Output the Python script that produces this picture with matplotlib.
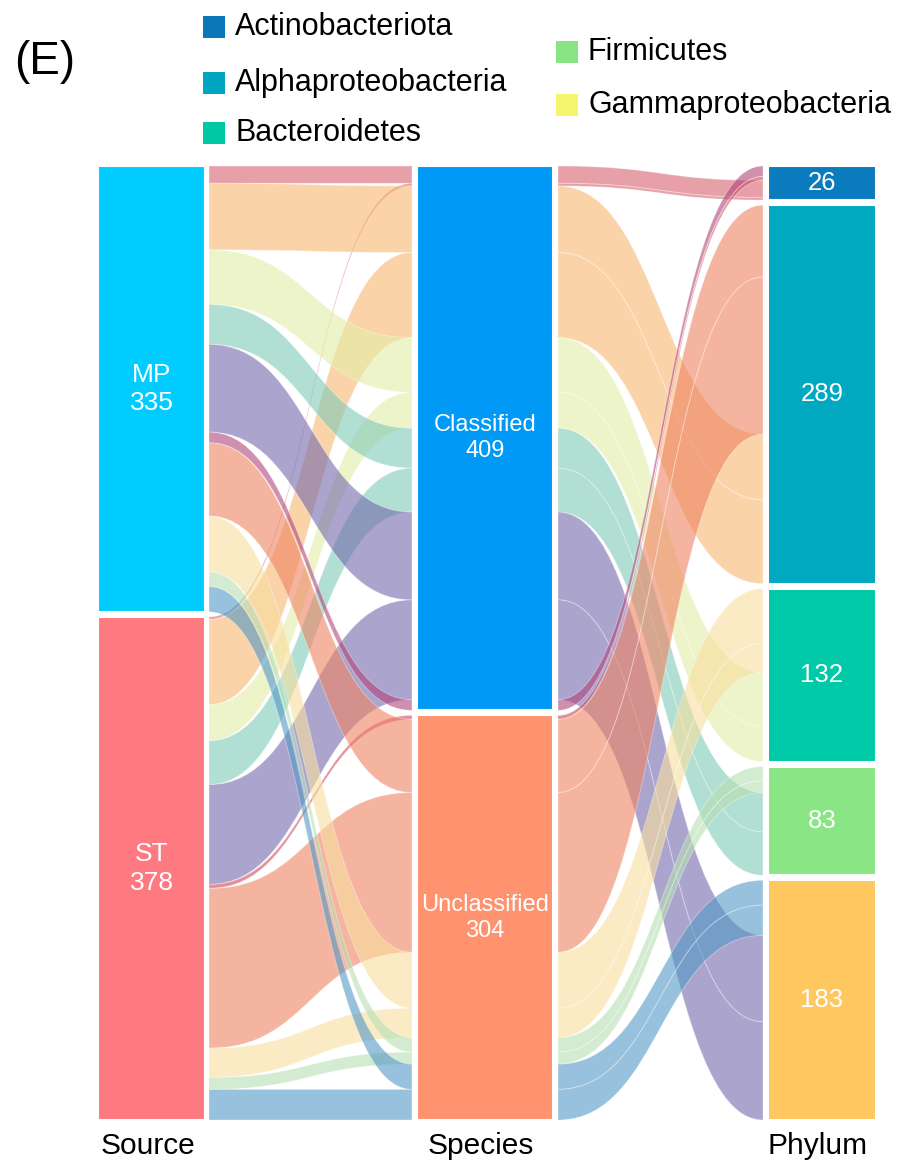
import matplotlib.pyplot as plt
from matplotlib.colors import to_rgba
from matplotlib.patches import Rectangle, PathPatch
from matplotlib.path import Path

plt.rcParams['font.family'] = ['Liberation Sans', 'DejaVu Sans']

# strata
sources = ['MP', 'ST']
source_values = [335, 378]
species = ['Classified', 'Unclassified']
species_values = [409, 304]
phyla = ['Actinobacteriota', 'Alphaproteobacteria', 'Bacteroidetes',
         'Firmicutes', 'Gammaproteobacteria']
phylum_values = [26, 289, 132, 83, 183]

# alluvia (one entry per source -> species -> phylum path)
flow_source = ['MP', 'ST', 'MP', 'ST', 'MP', 'ST', 'MP', 'ST', 'MP', 'ST',
               'MP', 'ST', 'MP', 'ST', 'MP', 'ST', 'MP', 'ST', 'MP', 'ST']
flow_species = ['Classified'] * 11 + ['Unclassified'] * 9
flow_phylum = ['Actinobacteriota', 'Actinobacteriota',
               'Alphaproteobacteria', 'Alphaproteobacteria',
               'Bacteroidetes', 'Bacteroidetes',
               'Firmicutes', 'Firmicutes',
               'Gammaproteobacteria', 'Gammaproteobacteria',
               'Actinobacteriota', 'Actinobacteriota',
               'Alphaproteobacteria', 'Alphaproteobacteria',
               'Bacteroidetes', 'Bacteroidetes',
               'Firmicutes', 'Firmicutes',
               'Gammaproteobacteria', 'Gammaproteobacteria']
flow_count = [13, 2, 50, 64, 41, 27, 30, 33, 66, 75,
              8, 3, 55, 120, 42, 22, 11, 9, 19, 23]
flow_group = ['pink', 'pink', 'peach', 'peach', 'lime', 'lime', 'teal', 'teal',
              'purple', 'purple', 'magenta', 'red', 'salmon', 'salmon',
              'cream', 'cream', 'mint', 'mint', 'blue', 'blue']
# stacking order of the alluvia inside the phylum column
phylum_stack = [10, 11, 0, 1, 12, 13, 2, 3, 14, 15, 4, 5,
                16, 17, 6, 7, 18, 19, 8, 9]

group_colors = {'pink': '#d8616e', 'peach': '#f7b770', 'lime': '#e3eea5',
                'teal': '#7fcab7', 'purple': '#7369ac', 'magenta': '#b0447a',
                'red': '#d0455a', 'salmon': '#ee8261', 'cream': '#f8de9d',
                'mint': '#b6dfb2', 'blue': '#5298c5'}
source_colors = ['#00ccff', '#ff7a80']
species_colors = ['#0099f5', '#ff9370']
phylum_colors = ['#0a7bbd', '#00a8c0', '#00c9a7', '#8ae685', '#fec760']
legend_colors = ['#0b77b8', '#00a5c2', '#00c8a4', '#87e584', '#f5f56e']

W, H = 902, 1163
TOP, BOTTOM, GAP = 166, 1120, 5
col_x = [(98, 205), (417, 553), (768, 876)]
flow_x = [(209, 412), (558, 763)]

fig = plt.figure(figsize=(W / 100, H / 100), dpi=100)
ax = fig.add_axes([0, 0, 1, 1])
ax.set_xlim(0, W)
ax.set_ylim(H, 0)
ax.axis('off')


def stack(names, values):
    scale = (BOTTOM - TOP - GAP * (len(values) - 1)) / sum(values)
    pos, y = {}, TOP
    for n, v in zip(names, values):
        pos[n] = (y, y + v * scale)
        y += v * scale + GAP
    return pos, scale


def lodes(col_pos, scale, keys, order):
    start = {k: col_pos[k][0] for k in col_pos}
    out = {}
    for i in order:
        k = keys[i]
        h = flow_count[i] * scale
        out[i] = (start[k], start[k] + h)
        start[k] += h
    return out


src_pos, src_scale = stack(sources, source_values)
spc_pos, spc_scale = stack(species, species_values)
phy_pos, phy_scale = stack(phyla, phylum_values)

n = len(flow_count)
src_lodes = lodes(src_pos, src_scale, flow_source, range(n))
spc_lodes = lodes(spc_pos, spc_scale, flow_species, range(n))
phy_lodes = lodes(phy_pos, phy_scale, flow_phylum, phylum_stack)


def ribbon(x0, x1, a, b, color):
    xm = (x0 + x1) / 2
    verts = [(x0, a[0]), (xm, a[0]), (xm, b[0]), (x1, b[0]),
             (x1, b[1]), (xm, b[1]), (xm, a[1]), (x0, a[1]), (x0, a[0])]
    codes = [Path.MOVETO, Path.CURVE4, Path.CURVE4, Path.CURVE4,
             Path.LINETO, Path.CURVE4, Path.CURVE4, Path.CURVE4,
             Path.CLOSEPOLY]
    ax.add_patch(PathPatch(Path(verts, codes), facecolor=to_rgba(color, 0.6),
                           edgecolor=(1, 1, 1, 0.35), linewidth=0.7))


for i in range(n):
    c = group_colors[flow_group[i]]
    ribbon(*flow_x[0], src_lodes[i], spc_lodes[i], c)
    ribbon(*flow_x[1], spc_lodes[i], phy_lodes[i], c)


def draw_column(x, pos, names, values, colors, labels, size):
    for name, v, c, lab in zip(names, values, colors, labels):
        y0, y1 = pos[name]
        ax.add_patch(Rectangle((x[0], y0), x[1] - x[0], y1 - y0,
                               facecolor=c, edgecolor='white', linewidth=1.5))
        ax.text((x[0] + x[1]) / 2, (y0 + y1) / 2, lab, color='white',
                fontsize=size, ha='center', va='center', linespacing=1.25)


draw_column(col_x[0], src_pos, sources, source_values, source_colors,
            [f'{s}\n{v}' for s, v in zip(sources, source_values)], 19)
draw_column(col_x[1], spc_pos, species, species_values, species_colors,
            [f'{s}\n{v}' for s, v in zip(species, species_values)], 17)
draw_column(col_x[2], phy_pos, phyla, phylum_values, phylum_colors,
            [str(v) for v in phylum_values], 18.5)

for x, title in zip(col_x, ['Source', 'Species', 'Phylum']):
    ax.text((x[0] + x[1]) / 2 - 4, 1146, title, fontsize=21.5,
            ha='center', va='center')

ax.text(14, 62, '(E)', fontsize=33, ha='left', va='center')

# legend
legend_xy = [(203, 27), (203, 83), (203, 133), (556, 52), (556, 105)]
for (lx, ly), name, c in zip(legend_xy, phyla, legend_colors):
    ax.add_patch(Rectangle((lx, ly - 11), 22, 22, facecolor=c,
                           edgecolor='none'))
    ax.text(lx + 32, ly, name, fontsize=22, ha='left', va='center')

fig.savefig('out.png', dpi=100)
